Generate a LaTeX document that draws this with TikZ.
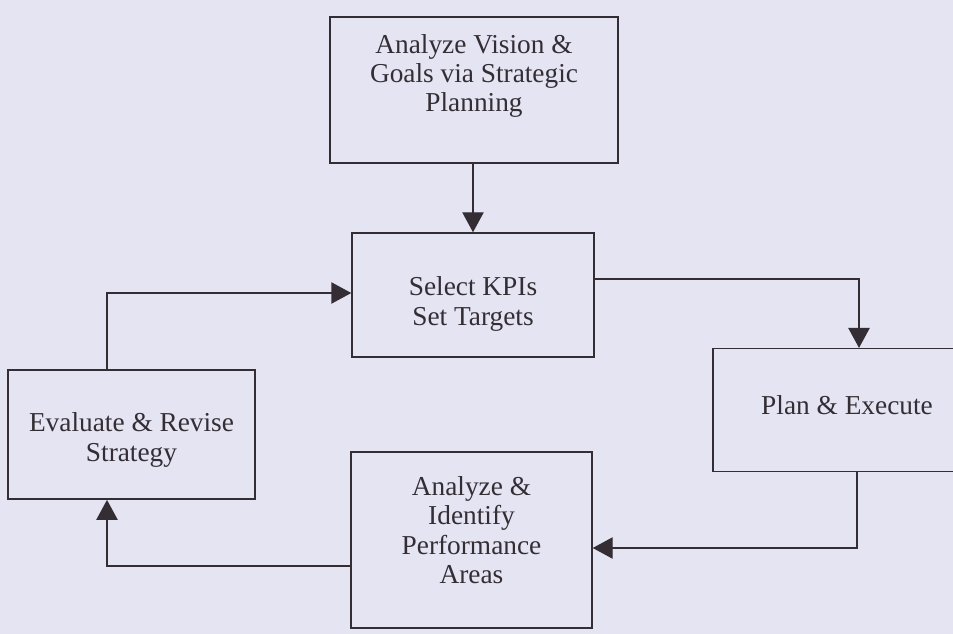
\documentclass[tikz,border=0pt]{standalone}
\usepackage{fontspec}
\setmainfont{Liberation Serif}
\usetikzlibrary{arrows.meta}
\definecolor{scanbg}{RGB}{228,228,242}
\definecolor{ink}{RGB}{52,46,52}
\tikzset{
  box/.style={draw=ink, line width=1.1pt, rectangle, inner sep=0pt},
  txt/.style={text=ink, align=center, font=\fontsize{20.5}{22}\selectfont},
  flow/.style={draw=ink, line width=1.1pt, ->, >={Triangle[length=15pt,width=16pt]}}
}
\begin{document}
\begin{tikzpicture}[x=0.75pt, y=-0.75pt]
	\useasboundingbox (0,0) rectangle (953,634);
	\clip (0,0) rectangle (953,634);
	\fill[scanbg] (0,0) rectangle (953,634);%Hintergrund

	%Kaesten
	\node[box, minimum width=216pt, minimum height=109.5pt] (vision) at (474,90) {};
	\node[txt] (visiontxt) at (474,76) {Analyze Vision \&\\Goals via Strategic\\Planning};
	\node[box, minimum width=181.5pt, minimum height=93pt] (kpi) at (473,295) {};
	\node[txt] (kpitxt) at (473,304) {Select KPIs\\Set Targets};
	\node[box, minimum width=201pt, minimum height=92pt] (plan) at (847,410) {};
	\node[txt] (plantxt) at (847,405) {Plan \& Execute};
	\node[box, minimum width=180.75pt, minimum height=132pt] (analyze) at (471.5,540) {};
	\node[txt] (analyzetxt) at (471.5,530) {Analyze \&\\Identify\\Performance\\Areas};
	\node[box, minimum width=185pt, minimum height=97pt] (eval) at (131.5,434.5) {};
	\node[txt] (evaltxt) at (131.5,440) {Evaluate \& Revise\\Strategy};

	%Knickpunkte
	\coordinate (k1) at (859,279);
	\coordinate (p1) at (857,548);
	\coordinate (a1) at (107,566);
	\coordinate (e1) at (107,293);

	%Pfeile
	\draw[flow] (kpi.north |- vision.south) -- (kpi.north);%oben nach Mitte
	\draw[flow] (kpi.east |- k1) -- (k1) -- (k1 |- plan.north);%Mitte nach rechts
	\draw[flow] (p1 |- plan.south) -- (p1) -- (p1 -| analyze.east);%rechts nach unten
	\draw[flow] (a1 -| analyze.west) -- (a1) -- (a1 |- eval.south);%unten nach links
	\draw[flow] (e1 |- eval.north) -- (e1) -- (e1 -| kpi.west);%links nach Mitte
\end{tikzpicture}
\end{document}
